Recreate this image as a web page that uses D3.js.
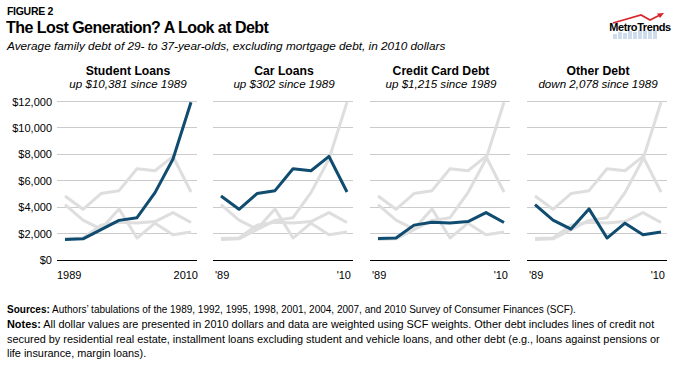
<!DOCTYPE html>
<html>
<head>
<meta charset="utf-8">
<script src="https://cdn.jsdelivr.net/npm/d3@7"></script>
<style>
  body { margin: 0; background: #fff; }
  svg { font-family: "Liberation Sans", Arial, Helvetica, sans-serif; }
</style>
</head>
<body>
<div id="chart"></div>
<script>
const width = 685;
const height = 374;

// data, average family debt in 2010 dollars
const years = [1989, 1992, 1995, 1998, 2001, 2004, 2007, 2010];
const studentLoans = [1560, 1600, 2300, 3000, 3200, 5100, 7650, 11941];
const carLoans = [4850, 3840, 5030, 5250, 6910, 6760, 7840, 5152];
const creditCardDebt = [1620, 1660, 2640, 2860, 2810, 2910, 3590, 2835];
const otherDebt = [4200, 3020, 2340, 3870, 1660, 2790, 1910, 2122];

const panelTitles = ["Student Loans", "Car Loans", "Credit Card Debt", "Other Debt"];
const panelChanges = ["up $10,381 since 1989", "up $302 since 1989", "up $1,215 since 1989", "down 2,078 since 1989"];
const yTicks = [0, 2000, 4000, 6000, 8000, 10000, 12000];
const firstPanelYearLabels = ["1989", "2010"];
const shortYearLabels = ["'89", "'10"];

const seriesList = [studentLoans, carLoans, creditCardDebt, otherDebt];

const blue = "#0f4c6f";
const gray = "#dedede";
const gridColor = "#cbcbcb";

const svg = d3.select("#chart").append("svg")
  .attr("width", width)
  .attr("height", height);

// header
svg.append("text").attr("x", 7).attr("y", 15)
  .style("font-size", "10.5px").style("font-weight", "bold")
  .style("letter-spacing", "-0.3px")
  .text("FIGURE 2");

svg.append("text").attr("x", 6).attr("y", 33)
  .style("font-size", "16px").style("font-weight", "bold")
  .style("letter-spacing", "-0.55px")
  .text("The Lost Generation? A Look at Debt");

svg.append("text").attr("x", 7).attr("y", 50)
  .style("font-size", "11.8px").style("font-style", "italic")
  .text("Average family debt of 29- to 37-year-olds, excluding mortgage debt, in 2010 dollars");

// logo
const logo = svg.append("g").attr("transform", "translate(607,10)");
[[6, 24, 4, 5], [11, 22, 4, 7], [16, 23, 4, 6], [21, 21, 4, 8], [26, 22, 4, 7], [31, 20, 4, 9], [36, 21, 4, 8], [41, 19, 4, 10], [46, 20, 4, 9]]
  .forEach(([bx, by, bw, bh]) => logo.append("rect")
    .attr("x", bx).attr("y", by).attr("width", bw).attr("height", bh)
    .attr("fill", "#cddcec"));
logo.append("polyline")
  .attr("points", "6,13 34,5 43,10 53,5")
  .attr("fill", "none").attr("stroke", "#d8262b").attr("stroke-width", 1.8);
logo.append("path").attr("d", "M57,3 L50,3.5 L53,8 Z").attr("fill", "#d8262b");
logo.append("text").attr("x", 33).attr("y", 21)
  .attr("text-anchor", "middle")
  .style("font-size", "11px").style("font-weight", "bold")
  .style("letter-spacing", "-0.4px")
  .text("MetroTrends");

// panels
const panelLeft = [57, 213, 370, 527];
const panelWidth = 140;

const y = d3.scaleLinear().domain([0, 12000]).range([260, 101.5]);

const line = d3.line()
  .x(d => d.x)
  .y(d => y(d.v));

panelLeft.forEach((x0, p) => {
  const g = svg.append("g");
  const x = d3.scaleLinear()
    .domain(d3.extent(years))
    .range([x0 + 8, x0 + panelWidth - 6]);
  const cx = x0 + panelWidth / 2 + 1;

  g.append("text").attr("x", cx).attr("y", 75)
    .attr("text-anchor", "middle")
    .style("font-size", "12.2px").style("font-weight", "bold")
    .text(panelTitles[p]);
  g.append("text").attr("x", cx).attr("y", 88)
    .attr("text-anchor", "middle")
    .style("font-size", "11.6px").style("font-style", "italic")
    .text(panelChanges[p]);

  // gridlines
  g.selectAll("line.grid")
    .data(yTicks)
    .join("line")
    .attr("class", "grid")
    .attr("x1", x0).attr("x2", x0 + panelWidth)
    .attr("y1", d => y(d)).attr("y2", d => y(d))
    .attr("stroke", d => d === 0 ? "#000" : gridColor)
    .attr("stroke-width", 1)
    .attr("shape-rendering", "crispEdges");

  if (p === 0) {
    g.selectAll("text.ylab")
      .data(yTicks)
      .join("text")
      .attr("class", "ylab")
      .attr("x", 52).attr("y", d => y(d) + 4)
      .attr("text-anchor", "end")
      .style("font-size", "11px")
      .text(d => "$" + d3.format(",")(d));
  }

  const labels = p === 0 ? firstPanelYearLabels : shortYearLabels;
  g.append("text").attr("x", x0 + (p === 0 ? 0 : 2)).attr("y", 279)
    .style("font-size", "11px")
    .text(labels[0]);
  g.append("text").attr("x", x0 + panelWidth + (p === 0 ? 1 : -2)).attr("y", 279)
    .attr("text-anchor", "end")
    .style("font-size", "11px")
    .text(labels[1]);

  const toPoints = s => s.map((v, i) => ({ x: x(years[i]), v }));

  // other series in gray, then the panel's own series on top
  seriesList.forEach((s, i) => {
    if (i === p) return;
    g.append("path")
      .attr("d", line(toPoints(s)))
      .attr("fill", "none")
      .attr("stroke", gray)
      .attr("stroke-width", 3)
      .attr("stroke-linejoin", "round");
  });
  g.append("path")
    .attr("d", line(toPoints(seriesList[p])))
    .attr("fill", "none")
    .attr("stroke", blue)
    .attr("stroke-width", 3)
    .attr("stroke-linejoin", "round");
});

// footer
const sources = svg.append("text").attr("x", 7).attr("y", 313).style("font-size", "10px");
sources.append("tspan").style("font-weight", "bold").text("Sources:");
sources.append("tspan").text(" Authors\u2019 tabulations of the 1989, 1992, 1995, 1998, 2001, 2004, 2007, and 2010 Survey of Consumer Finances (SCF).");

const notesLines = [
  " All dollar values are presented in 2010 dollars and data are weighted using SCF weights. Other debt includes lines of credit not",
  "secured by residential real estate, installment loans excluding student and vehicle loans, and other debt (e.g., loans against pensions or",
  "life insurance, margin loans)."
];
const notes = svg.append("g").style("font-size", "10.9px");
const n1 = notes.append("text").attr("x", 7).attr("y", 328);
n1.append("tspan").style("font-weight", "bold").text("Notes:");
n1.append("tspan").text(notesLines[0]);
notes.append("text").attr("x", 7).attr("y", 342.5).text(notesLines[1]);
notes.append("text").attr("x", 7).attr("y", 357).text(notesLines[2]);
</script>
</body>
</html>
